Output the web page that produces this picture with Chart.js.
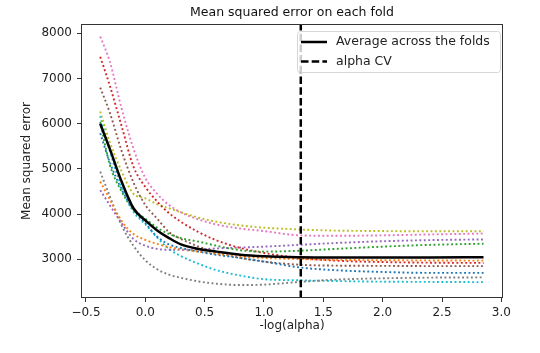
<!DOCTYPE html>
<html>
<head>
<meta charset="utf-8">
<script src="https://cdn.jsdelivr.net/npm/chart.js@4/dist/chart.umd.min.js"></script>
<style>
  html, body { margin: 0; padding: 0; background: #fff; }
</style>
</head>
<body>
<canvas id="chart" width="540" height="353"></canvas>
<script>
// -log(alpha) grid
const logAlphas = [-0.38, -0.3, -0.2, -0.1, 0.0, 0.1, 0.2, 0.3, 0.45, 0.6, 0.8, 1.0, 1.3, 1.6, 2.0, 2.4, 2.85];

// MSE de chaque fold
const fold1 = [5790, 5150, 4550, 4100, 3800, 3500, 3330, 3250, 3170, 3100, 3030, 2950, 2820, 2760, 2720, 2700, 2700];
const fold2 = [4720, 4330, 3850, 3560, 3430, 3340, 3270, 3220, 3170, 3120, 3060, 3030, 3005, 2990, 2980, 2975, 2970];
const fold3 = [6040, 5100, 4500, 4100, 3900, 3700, 3560, 3470, 3390, 3300, 3200, 3170, 3190, 3230, 3280, 3320, 3345];
const fold4 = [7480, 6850, 5950, 5050, 4600, 4280, 4020, 3830, 3600, 3420, 3250, 3140, 3030, 2970, 2940, 2925, 2920];
const fold5 = [4530, 4200, 3800, 3450, 3300, 3230, 3210, 3210, 3220, 3240, 3260, 3280, 3320, 3360, 3400, 3425, 3440];
const fold6 = [6800, 6250, 5400, 4700, 4200, 3900, 3600, 3450, 3280, 3150, 3030, 2950, 2880, 2860, 2855, 2850, 2850];
const fold7 = [7930, 7380, 6340, 5450, 4800, 4450, 4200, 4040, 3880, 3770, 3680, 3625, 3530, 3520, 3530, 3550, 3570];
const fold8 = [4940, 4400, 3750, 3300, 2980, 2780, 2660, 2590, 2510, 2460, 2430, 2440, 2500, 2550, 2580, 2595, 2600];
const fold9 = [6270, 5600, 4950, 4450, 4350, 4220, 4130, 4040, 3920, 3830, 3750, 3700, 3660, 3635, 3625, 3620, 3620];
const fold10 = [6170, 5400, 4600, 4050, 3780, 3480, 3230, 3070, 2900, 2760, 2640, 2560, 2535, 2520, 2505, 2500, 2495];

// Moyenne sur les folds
const meanMse = [6000, 5450, 4720, 4130, 3860, 3640, 3470, 3330, 3230, 3170, 3100, 3065, 3045, 3040, 3040, 3040, 3045];

// alpha retenu par CV
const alphaCV = 1.31;

// Axes
const xRange = [-0.542, 3.014];
const yRange = [2144, 8206];
const xTicks = [-0.5, 0.0, 0.5, 1.0, 1.5, 2.0, 2.5, 3.0];
const yTicks = [3000, 4000, 5000, 6000, 7000, 8000];

const folds = [fold1, fold2, fold3, fold4, fold5, fold6, fold7, fold8, fold9, fold10];
const foldColors = ['#1f77b4', '#ff7f0e', '#2ca02c', '#d62728', '#9467bd',
                    '#8c564b', '#e377c2', '#7f7f7f', '#bcbd22', '#17becf'];

const toPoints = arr => arr.map((v, i) => ({ x: logAlphas[i], y: v }));

const FONT = "'DejaVu Sans', sans-serif";
Chart.defaults.font.family = FONT;
Chart.defaults.color = '#222';

const datasets = [
    {
        label: 'alpha CV',
        data: [{ x: alphaCV, y: yRange[0] }, { x: alphaCV, y: yRange[1] }],
        borderColor: '#000',
        borderWidth: 2.5,
        borderDash: [7.5, 3.2],
        pointRadius: 0
    },
    {
        label: 'Average across the folds',
        data: toPoints(meanMse),
        borderColor: '#000',
        borderWidth: 2.5,
        cubicInterpolationMode: 'monotone',
        pointRadius: 0
    }
];
folds.forEach((f, i) => {
    datasets.push({
        label: 'fold ' + (i + 1),
        data: toPoints(f),
        borderColor: foldColors[i],
        borderWidth: 1.9,
        borderDash: [1.9, 2.5],
        cubicInterpolationMode: 'monotone',
        pointRadius: 0
    });
});

// Cadre + légende façon matplotlib
const framePlugin = {
    id: 'frame',
    afterDraw(chart) {
        const ctx = chart.ctx;
        const a = chart.chartArea;
        ctx.save();
        ctx.strokeStyle = '#333';
        ctx.lineWidth = 1;
        ctx.strokeRect(Math.round(a.left) + 0.5, Math.round(a.top) + 0.5,
                       Math.round(a.right - a.left) - 1, Math.round(a.bottom - a.top) - 1);

        // légende
        const bx = 297, by = 31, bw = 203, bh = 41;
        ctx.globalAlpha = 0.8;
        ctx.fillStyle = '#fff';
        ctx.beginPath();
        ctx.roundRect(bx + 0.5, by + 0.5, bw, bh, 3);
        ctx.fill();
        ctx.globalAlpha = 1;
        ctx.strokeStyle = '#d6d6d6';
        ctx.stroke();

        ctx.strokeStyle = '#000';
        ctx.lineWidth = 2.5;
        ctx.beginPath();
        ctx.moveTo(301, 42); ctx.lineTo(327, 42);
        ctx.stroke();
        ctx.setLineDash([7.5, 3.2]);
        ctx.beginPath();
        ctx.moveTo(301, 61.5); ctx.lineTo(327, 61.5);
        ctx.stroke();
        ctx.setLineDash([]);

        ctx.fillStyle = '#222';
        ctx.font = '12.5px ' + FONT;
        ctx.textBaseline = 'middle';
        ctx.textAlign = 'left';
        ctx.fillText('Average across the folds', 336, 42);
        ctx.fillText('alpha CV', 336, 61.5);
        ctx.restore();
    }
};

new Chart(document.getElementById('chart'), {
    type: 'line',
    data: { datasets: datasets },
    options: {
        responsive: false,
        animation: false,
        devicePixelRatio: 1,
        layout: { padding: { left: 0, right: 37, top: 0, bottom: 0 } },
        plugins: {
            legend: { display: false },
            tooltip: { enabled: false },
            title: {
                display: true,
                text: 'Mean squared error on each fold',
                fullSize: false,
                color: '#111',
                font: { size: 12.5, weight: 'normal' },
                padding: { top: 5, bottom: 4 }
            }
        },
        scales: {
            x: {
                type: 'linear',
                min: xRange[0],
                max: xRange[1],
                afterFit: s => { s.height = 55; },
                afterBuildTicks: s => { s.ticks = xTicks.map(v => ({ value: v })); },
                border: { display: false },
                grid: { drawOnChartArea: false, drawTicks: true, tickLength: 4, color: '#333' },
                ticks: {
                    padding: 4,
                    maxRotation: 0,
                    autoSkip: false,
                    font: { size: 12 },
                    callback: v => v.toFixed(1).replace('-', '\u2212')
                },
                title: {
                    display: true,
                    text: '-log(alpha)',
                    font: { size: 12 },
                    padding: { top: 0, bottom: 20 }
                }
            },
            y: {
                type: 'linear',
                min: yRange[0],
                max: yRange[1],
                afterFit: s => { s.width = 81; },
                afterBuildTicks: s => { s.ticks = yTicks.map(v => ({ value: v })); },
                border: { display: false },
                grid: { drawOnChartArea: false, drawTicks: true, tickLength: 4, color: '#333' },
                ticks: {
                    padding: 5,
                    autoSkip: false,
                    font: { size: 12 },
                    callback: v => String(v)
                },
                title: {
                    display: true,
                    text: 'Mean squared error',
                    font: { size: 12 },
                    padding: { top: 20, bottom: 0 }
                }
            }
        }
    },
    plugins: [framePlugin]
});
</script>
</body>
</html>
